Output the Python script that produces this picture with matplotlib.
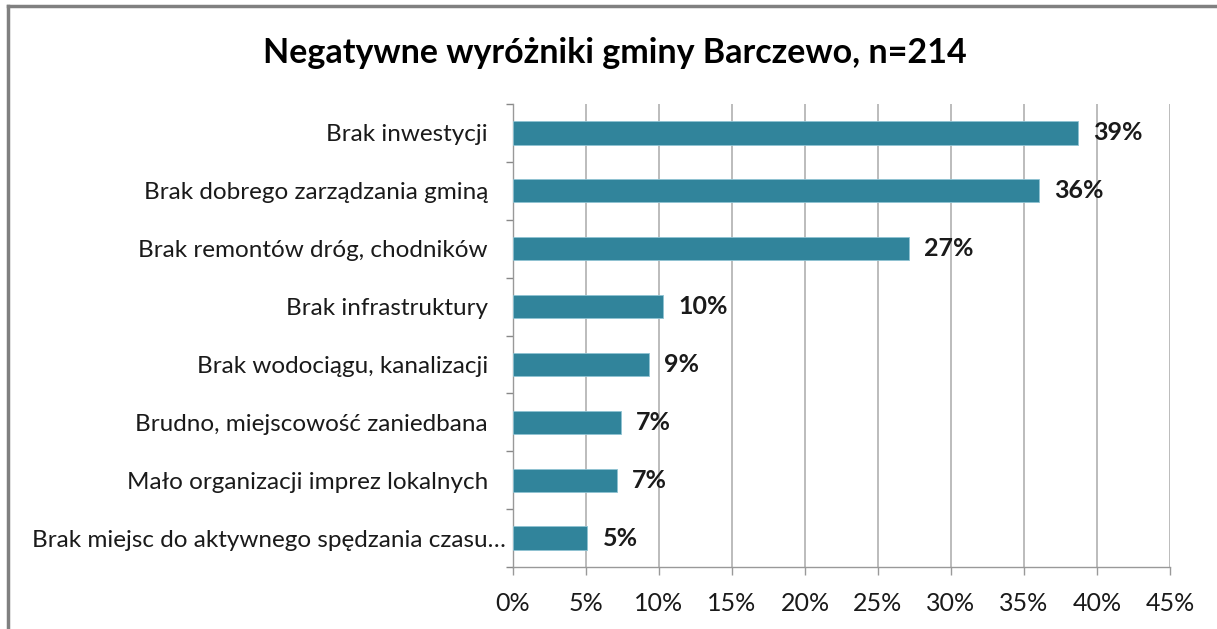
import matplotlib
matplotlib.use("Agg")
import matplotlib.pyplot as plt
import matplotlib.transforms as mtransforms
from matplotlib.lines import Line2D

categories = [
    "Brak inwestycji",
    "Brak dobrego zarządzania gminą",
    "Brak remontów dróg, chodników",
    "Brak infrastruktury",
    "Brak wodociągu, kanalizacji",
    "Brudno, miejscowość zaniedbana",
    "Mało organizacji imprez lokalnych",
    "Brak miejsc do aktywnego spędzania czasu…",
]
values = [38.7, 36.0, 27.1, 10.3, 9.3, 7.4, 7.1, 5.1]
xticks = [0, 5, 10, 15, 20, 25, 30, 35, 40, 45]

plt.rcParams['font.family'] = ['Lato', 'DejaVu Sans']

W, H = 1217, 629
fig = plt.figure(figsize=(W / 100, H / 100), dpi=100)
fig.patch.set_facecolor('white')

ax = fig.add_axes([513 / W, 1 - 567 / H, (1170 - 513) / W, (567 - 104) / H])
n = len(categories)
ypos = list(range(n))
ax.barh(ypos, values, height=0.4, color='#31849B', edgecolor='#8fc3d3', linewidth=0.6, zorder=3)
ax.set_ylim(n - 0.5, -0.5)
ax.set_xlim(0, 45)
ax.set_yticks(ypos)
ax.set_yticklabels(categories, fontsize=17.5, color='#1a1a1a')
ax.tick_params(axis='y', length=0, pad=18)
# the truncated last label sits closer to the axis, as in the original
last = ax.get_yticklabels()[-1]
last.set_transform(last.get_transform() +
                   mtransforms.ScaledTranslation(13 / 72, 0, fig.dpi_scale_trans))
# category boundary ticks
ax.set_yticks([i - 0.5 for i in range(n + 1)], minor=True)
ax.tick_params(axis='y', which='minor', length=5, color='#888888', width=1)
ax.set_xticks(xticks)
ax.set_xticklabels([f"{t}%" for t in xticks], fontsize=18, color='#1a1a1a')
ax.tick_params(axis='x', length=6, color='#999999', width=1, pad=12)
ax.grid(axis='x', color='#b0b0b0', linewidth=1.2, zorder=0)
for s in ['top', 'right']:
    ax.spines[s].set_visible(False)
for s in ['left', 'bottom']:
    ax.spines[s].set_color('#999999')
    ax.spines[s].set_linewidth(1)

for y, v in zip(ypos, values):
    ax.annotate(f"{round(v):d}%", xy=(v, y), xytext=(11, 0), textcoords='offset points',
                va='center', ha='left', fontsize=18, fontweight='bold',
                color='#1a1a1a', zorder=4)

fig.text(615 / W, 1 - 53 / H, "Negatywne wyróżniki gminy Barczewo, n=214",
         ha='center', va='center', fontsize=24.5, fontweight='bold', color='black')

# outer frame (top and left visible)
fig.add_artist(Line2D([8 / W, 1.0], [1 - 6 / H, 1 - 6 / H], transform=fig.transFigure,
                      color='#808080', linewidth=2.5))
fig.add_artist(Line2D([8 / W, 8 / W], [0, 1 - 6 / H], transform=fig.transFigure,
                      color='#808080', linewidth=2.5))

fig.savefig("out.png", dpi=100, facecolor='white')
